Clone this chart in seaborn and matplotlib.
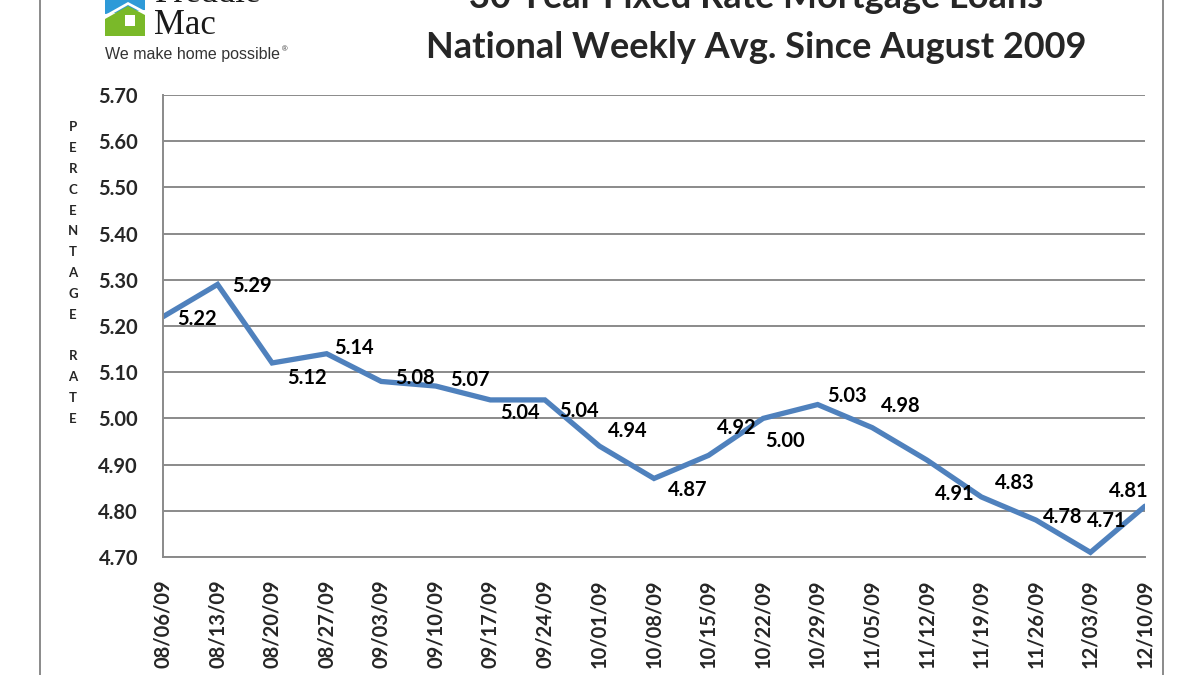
import matplotlib
matplotlib.use("Agg")
import matplotlib.pyplot as plt
import seaborn as sns
import pandas as pd
import numpy as np
from matplotlib.patches import Polygon

dates = ["08/06/09", "08/13/09", "08/20/09", "08/27/09", "09/03/09", "09/10/09",
         "09/17/09", "09/24/09", "10/01/09", "10/08/09", "10/15/09", "10/22/09",
         "10/29/09", "11/05/09", "11/12/09", "11/19/09", "11/26/09", "12/03/09",
         "12/10/09"]
rates = [5.22, 5.29, 5.12, 5.14, 5.08, 5.07, 5.04, 5.04, 4.94, 4.87, 4.92, 5.00,
         5.03, 4.98, 4.91, 4.83, 4.78, 4.71, 4.81]
y_ticks = [4.70, 4.80, 4.90, 5.00, 5.10, 5.20, 5.30, 5.40, 5.50, 5.60, 5.70]

# label offsets (pixels, x right / y down on screen) for data labels
label_offsets = [(34, 2), (34, 2), (35, 15), (27, -6), (34, -3), (34, -6), (30, 13),
                 (34, 11), (28, -15), (34, 12), (28, -27), (22, 23), (29, -9),
                 (29, -22), (28, 34), (33, -14), (27, -3), (16, -31), (-16, -15)]

sns.set_theme(style="white")
plt.rcParams['font.family'] = ['Lato', 'DejaVu Sans']

df = pd.DataFrame({"idx": np.arange(len(dates)), "rate": rates})

W, H = 1200, 675
fig = plt.figure(figsize=(12, 6.75), dpi=100)
fig.patch.set_facecolor("white")

def fx(px):
    return px / W

def fy(py):
    return 1 - py / H

ax = fig.add_axes([fx(163), fy(557), fx(1145) - fx(163), fy(95) - fy(557)])
sns.lineplot(data=df, x="idx", y="rate", ax=ax, color="#4F81BD", linewidth=3.8,
             solid_joinstyle="miter")
ax.set_xlim(0, len(dates) - 1)
ax.set_ylim(4.70, 5.70)
ax.set_yticks(y_ticks)
ax.set_yticklabels([f"{v:.2f}" for v in y_ticks], fontsize=14.5, fontweight="bold")
ax.set_xticks(np.arange(len(dates)))
ax.set_xticklabels(dates, rotation=90, fontsize=14.5, fontweight="bold")
ax.tick_params(axis="y", pad=18, length=0)
ax.tick_params(axis="x", pad=16, length=0)
ax.set_xlabel("")
ax.set_ylabel("")
ax.yaxis.grid(True, color="#8a8a8a", linewidth=1.4)
ax.xaxis.grid(False)
for s in ["top", "right"]:
    ax.spines[s].set_visible(False)
for s in ["left", "bottom"]:
    ax.spines[s].set_color("#8a8a8a")
    ax.spines[s].set_linewidth(1.4)

for i, (v, (dx, dy)) in enumerate(zip(rates, label_offsets)):
    ax.annotate(f"{v:.2f}", (i, v), xytext=(dx, -dy), textcoords="offset pixels",
                ha="center", va="center", fontsize=14.5, fontweight="bold",
                color="black", annotation_clip=False)

# vertical axis label (stacked letters)
fig.text(fx(73), fy(273), "P\nE\nR\nC\nE\nN\nT\nA\nG\nE\n\nR\nA\nT\nE",
         ha="center", va="center", fontsize=9.5, fontweight="bold",
         linespacing=1.88)

# title
fig.text(fx(756), fy(-2), "30 Year Fixed Rate Mortgage Loans", ha="center",
         va="center", fontsize=26, fontweight="bold")
fig.text(fx(756), fy(48), "National Weekly Avg. Since August 2009", ha="center",
         va="center", fontsize=26, fontweight="bold")

# frame lines
fig.add_artist(plt.Line2D([fx(40), fx(40)], [0, 1], color="#8a8a8a", linewidth=1.4))
fig.add_artist(plt.Line2D([fx(1163), fx(1163)], [0, 1], color="#8a8a8a", linewidth=1.4))

# logo
def poly(pts, color):
    fig.add_artist(Polygon([(fx(x), fy(y)) for x, y in pts], closed=True,
                           facecolor=color, edgecolor="none",
                           transform=fig.transFigure))

poly([(105, -5), (145, -5), (145, 10), (105, 14)], "#2E9AD8")
poly([(105, 15), (128, 2), (145, 11), (145, 14), (128, 5), (105, 18)], "white")
poly([(105, 19), (128, 6), (145, 15), (145, 36), (105, 36)], "#7AB929")
poly([(125, 15), (135, 15), (135, 26), (125, 26)], "white")

fig.text(fx(155), fy(2), "Freddie", ha="left", va="baseline", fontsize=25,
         family="Liberation Serif", color="#1a1a1a")
fig.text(fx(154), fy(34), "Mac", ha="left", va="baseline", fontsize=25,
         family="Liberation Serif", color="#1a1a1a")
fig.text(fx(105), fy(55), "We make home possible", ha="left", va="center",
         fontsize=11.5, family="Liberation Sans", color="#333333")
fig.text(fx(282), fy(50), "®", ha="left", va="center", fontsize=5.5,
         family="Liberation Sans", color="#333333")

fig.savefig("out.png", dpi=100, facecolor="white")
